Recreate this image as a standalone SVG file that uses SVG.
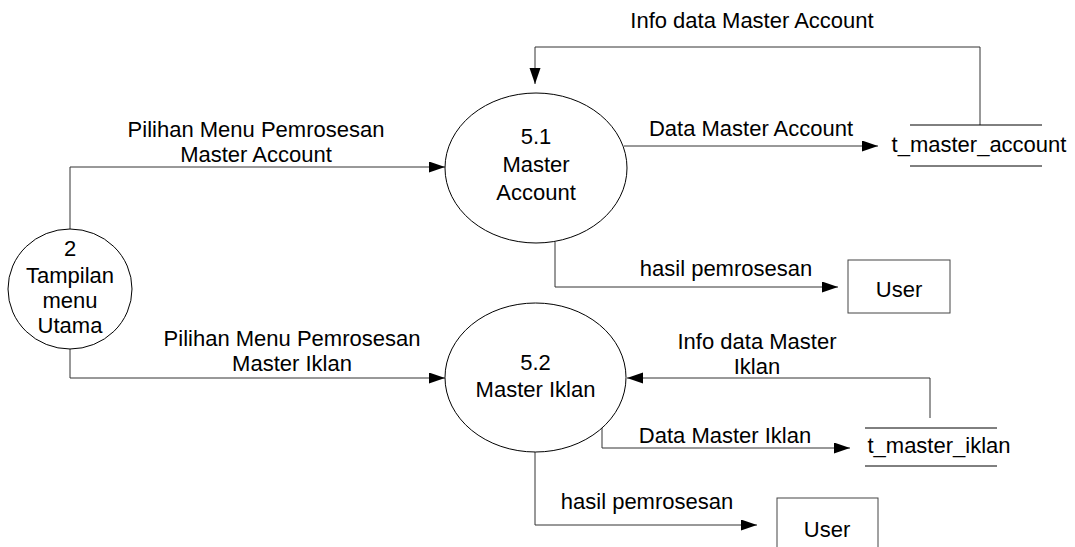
<svg xmlns="http://www.w3.org/2000/svg" width="1075" height="547" viewBox="0 0 1075 547">
  <style>
    text { font-family: "Liberation Sans", Arial, sans-serif; font-size: 22px; fill: #000; text-anchor: middle; }
    .proc { fill: #fff; stroke: #000; stroke-width: 1; }
    .ent { fill: #fff; stroke: #444; stroke-width: 1; }
    .store { stroke: #000; stroke-width: 1; fill: none; }
    .flow { fill: none; stroke: #333; stroke-width: 1; }
  </style>
  <defs>
    <marker id="arr" markerUnits="userSpaceOnUse" markerWidth="17" markerHeight="12" refX="16" refY="5.5" orient="auto">
      <path d="M0,0 L16,5.5 L0,11 z" fill="#000"/>
    </marker>
  </defs>
  <rect width="1075" height="547" fill="#fff"/>

  <g id="connectors">
    <polyline class="flow" points="70,229 70,167 445,167" marker-end="url(#arr)"/>
    <polyline class="flow" points="70,349 70,378 445,378" marker-end="url(#arr)"/>
    <polyline class="flow" points="980,125 980,47 535,47 535,84" marker-end="url(#arr)"/>
    <polyline class="flow" points="624,146 878,146" marker-end="url(#arr)"/>
    <polyline class="flow" points="555,242 555,287 838,287" marker-end="url(#arr)"/>
    <polyline class="flow" points="930,418 930,378 627,378" marker-end="url(#arr)"/>
    <polyline class="flow" points="602,428 602,448 850,448" marker-end="url(#arr)"/>
    <polyline class="flow" points="535,452 535,525 757,525" marker-end="url(#arr)"/>
    <text x="256" y="137">Pilihan Menu Pemrosesan</text>
    <text x="256" y="162">Master Account</text>
    <text x="292" y="346">Pilihan Menu Pemrosesan</text>
    <text x="292" y="371">Master Iklan</text>
    <text x="752" y="28">Info data Master Account</text>
    <text x="751" y="136">Data Master Account</text>
    <text x="726" y="276">hasil pemrosesan</text>
    <text x="757" y="349">Info data Master</text>
    <text x="757" y="374">Iklan</text>
    <text x="725" y="443">Data Master Iklan</text>
    <text x="647" y="509">hasil pemrosesan</text>
  </g>

  <g id="node-2">
    <ellipse class="proc" cx="70" cy="289" rx="62" ry="60"/>
    <text x="70" y="256">2</text>
    <text x="70" y="283">Tampilan</text>
    <text x="70" y="308">menu</text>
    <text x="70" y="333">Utama</text>
  </g>

  <g id="node-5-1">
    <ellipse class="proc" cx="536" cy="168" rx="91" ry="75"/>
    <text x="536" y="144">5.1</text>
    <text x="536" y="172">Master</text>
    <text x="536" y="200">Account</text>
  </g>

  <g id="node-5-2">
    <ellipse class="proc" cx="535.5" cy="377.5" rx="90.5" ry="74.5"/>
    <text x="535.5" y="370">5.2</text>
    <text x="535.5" y="397">Master Iklan</text>
  </g>

  <g id="store-t-master-account">
    <line class="store" x1="910" y1="125" x2="1042" y2="125"/>
    <line class="store" x1="910" y1="166" x2="1042" y2="166"/>
    <text x="979" y="152">t_master_account</text>
  </g>

  <g id="store-t-master-iklan">
    <line class="store" x1="865" y1="428" x2="997" y2="428"/>
    <line class="store" x1="865" y1="466" x2="997" y2="466"/>
    <text x="939" y="453">t_master_iklan</text>
  </g>

  <g id="user-1">
    <rect class="ent" x="848" y="260" width="102" height="53"/>
    <text x="899" y="297">User</text>
  </g>

  <g id="user-2">
    <rect class="ent" x="777" y="498" width="101" height="60"/>
    <text x="827" y="537">User</text>
  </g>
</svg>
